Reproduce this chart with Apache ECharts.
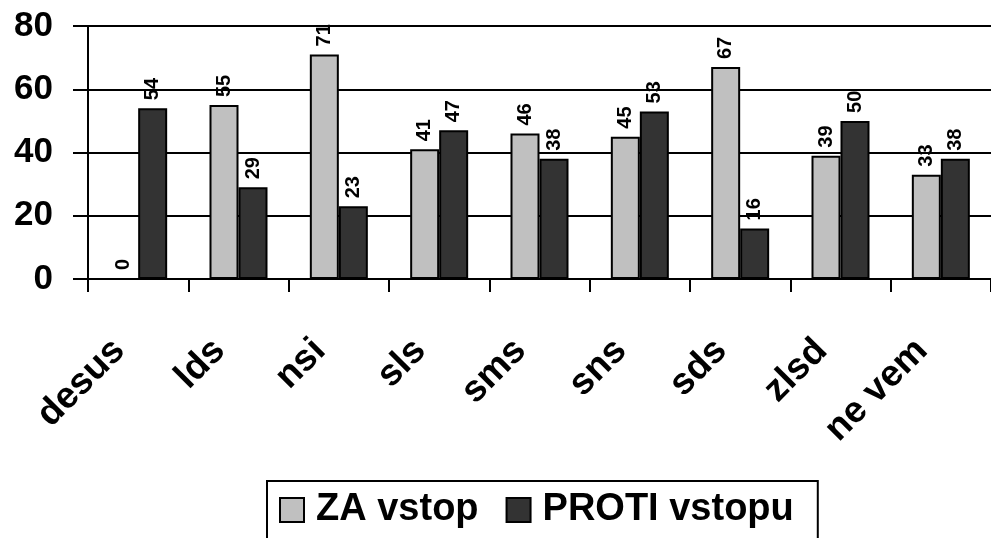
<!DOCTYPE html>
<html>
<head>
<meta charset="utf-8">
<script src="https://cdn.jsdelivr.net/npm/echarts@6/dist/echarts.min.js"></script>
<style>
  * { box-sizing: border-box; margin: 0; padding: 0; }
  html, body { width: 991px; height: 538px; background: #fff; overflow: hidden; }
  #chart { width: 991px; height: 538px; }
</style>
</head>
<body>
<div id="chart"></div>
<script>
  // podatki
  const categories = ['desus', 'lds', 'nsi', 'sls', 'sms', 'sns', 'sds', 'zlsd', 'ne vem'];
  const zaVstop = [0, 55, 71, 41, 46, 45, 67, 39, 33];
  const protiVstopu = [54, 29, 23, 47, 38, 53, 16, 50, 38];
  const yTicks = [0, 20, 40, 60, 80];

  const font = '"Liberation Sans", Arial, sans-serif';

  const valueLabel = {
    show: true,
    position: 'top',
    rotate: 90,
    align: 'left',
    verticalAlign: 'middle',
    distance: 8,
    color: '#000',
    fontFamily: font,
    fontWeight: 'bold',
    fontSize: 20
  };

  const myChart = echarts.init(document.getElementById('chart'));
  const option = {
    animation: false,
    backgroundColor: '#fff',
    grid: {
      left: 88,
      top: 26,
      right: -10,
      bottom: 259
    },
    legend: {
      data: ['ZA vstop', 'PROTI vstopu'],
      left: 267,
      top: 481,
      orient: 'horizontal',
      icon: 'rect',
      itemWidth: 24,
      itemHeight: 24,
      itemGap: 27,
      padding: [10, 24, 12, 12],
      borderColor: '#000',
      borderWidth: 2,
      textStyle: {
        color: '#000',
        fontFamily: font,
        fontWeight: 'bold',
        fontSize: 38,
        padding: [0, 0, 0, 7]
      }
    },
    xAxis: {
      type: 'category',
      data: categories,
      axisLine: { lineStyle: { color: '#000', width: 2 } },
      axisTick: { show: true, length: 13, lineStyle: { color: '#000', width: 2 } },
      axisLabel: {
        interval: 0,
        rotate: 45,
        margin: 47,
        padding: [0, 27, 0, 0],
        color: '#000',
        fontFamily: font,
        fontWeight: 'bold',
        fontSize: 37
      }
    },
    yAxis: {
      type: 'value',
      min: yTicks[0],
      max: yTicks[yTicks.length - 1],
      interval: 20,
      axisLine: { show: true, lineStyle: { color: '#000', width: 2 } },
      axisTick: { show: true, length: 15, lineStyle: { color: '#000', width: 2 } },
      splitLine: { show: true, lineStyle: { color: '#000', width: 2 } },
      axisLabel: {
        margin: 35,
        color: '#000',
        fontFamily: font,
        fontWeight: 'bold',
        fontSize: 35
      }
    },
    series: [
      {
        name: 'ZA vstop',
        type: 'bar',
        data: zaVstop,
        barWidth: 29,
        barGap: '0%',
        itemStyle: { color: '#c0c0c0', borderColor: '#000', borderWidth: 2 },
        label: valueLabel
      },
      {
        name: 'PROTI vstopu',
        type: 'bar',
        data: protiVstopu,
        barWidth: 29,
        barGap: '0%',
        itemStyle: { color: '#333333', borderColor: '#000', borderWidth: 2 },
        label: valueLabel
      }
    ]
  };
  myChart.setOption(option);
</script>
</body>
</html>
